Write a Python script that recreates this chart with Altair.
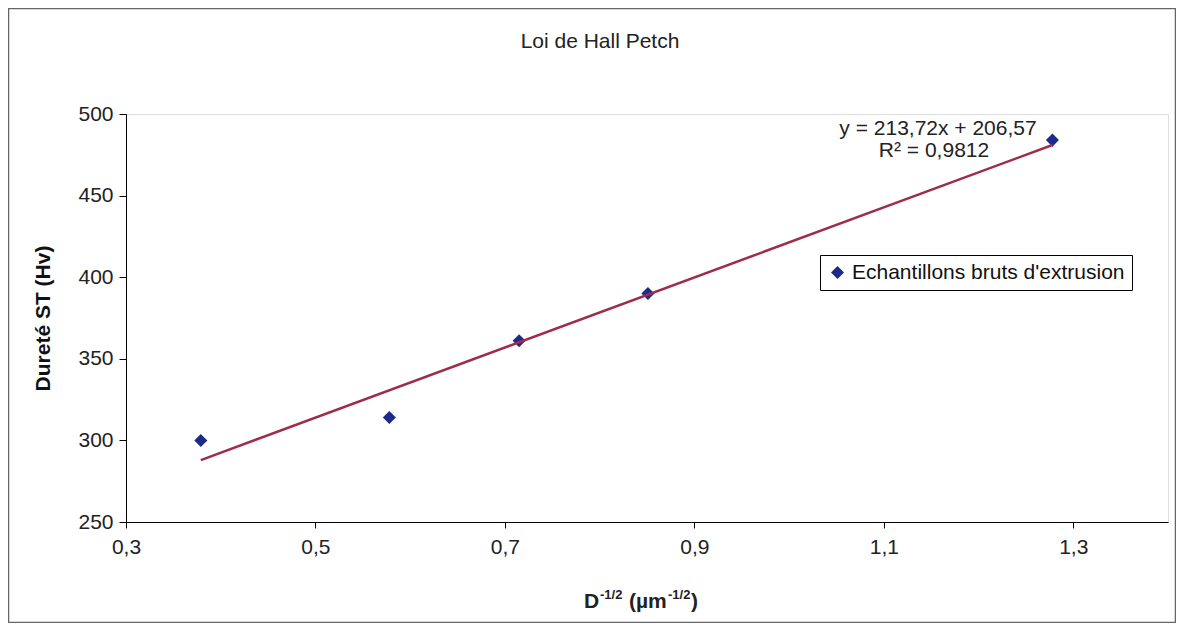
import altair as alt
import pandas as pd

# ---- data ----
x_vals = [0.379, 0.578, 0.715, 0.851, 1.278]
y_vals = [300, 314, 361, 390, 484]
series_name = "Echantillons bruts d'extrusion"
x_ticks = [0.3, 0.5, 0.7, 0.9, 1.1, 1.3]
y_ticks = [250, 300, 350, 400, 450, 500]
x_domain = [0.3, 1.4]
y_domain = [250, 500]
chart_title = "Loi de Hall Petch"
y_title = "Dureté ST (Hv)"
x_title_parts = ["D", "-1/2", "(µm", "-1/2", ")"]
eq_text = "y = 213,72x + 206,57"
r2_text = "R² = 0,9812"

df = pd.DataFrame({"x": x_vals, "y": y_vals, "serie": [series_name] * len(x_vals)})
one = pd.DataFrame({"k": [0]})

W, H = 1042, 408
FONT = "Liberation Sans"
FS = 21

xs = alt.Scale(domain=x_domain, nice=False, zero=False)
ys = alt.Scale(domain=y_domain, nice=False, zero=False)

x_axis = alt.Axis(values=x_ticks, title=None, grid=False,
                  labelExpr="replace(format(datum.value, '.1f'), '.', ',')",
                  labelFlush=False, labelOverlap=False,
                  domainColor="black", tickColor="black", tickSize=6,
                  labelFont=FONT, labelFontSize=FS, labelColor="#222", labelPadding=8)
y_axis = alt.Axis(values=y_ticks, title=y_title, grid=False,
                  labelFlush=False, labelOverlap=False,
                  domainColor="black", tickColor="black", tickSize=7,
                  labelFont=FONT, labelFontSize=FS, labelColor="#222", labelPadding=6,
                  titleFont=FONT, titleFontSize=FS, titleFontWeight="bold",
                  titleColor="#111", titlePadding=24)

points = alt.Chart(df).mark_point(filled=True, opacity=1, size=170).encode(
    x=alt.X("x:Q", scale=xs, axis=x_axis),
    y=alt.Y("y:Q", scale=ys, axis=y_axis),
    color=alt.Color("serie:N", scale=alt.Scale(range=["#1c2a8a"]),
                    legend=alt.Legend(title=None, orient="none", legendX=694, legendY=141,
                                      fillColor="white", strokeColor="black", padding=7,
                                      labelFont=FONT, labelFontSize=FS, labelColor="#111",
                                      labelLimit=0, symbolSize=170, symbolStrokeWidth=0)),
    shape=alt.Shape("serie:N", scale=alt.Scale(range=["diamond"]), legend=None),
)

trend = alt.Chart(df).transform_regression("x", "y").mark_line(
    color="#9e2d4c", strokeWidth=2.5).encode(x=alt.X("x:Q", scale=xs), y=alt.Y("y:Q", scale=ys))

def label(txt, x, y, size=FS, weight="normal", align="center", baseline="middle"):
    return alt.Chart(one).mark_text(font=FONT, fontSize=size, fontWeight=weight, color="#222",
                                    align=align, baseline=baseline).encode(
        x=alt.value(x), y=alt.value(y), text=alt.value(txt))

title_layer = label(chart_title, 474, -72)
eq = label(eq_text, 812, 15)
r2 = label(r2_text, 808, 37)

# x axis title with superscripts
base_x, base_y = 458, 494
sub_fs = 13
offsets = [0, 16, 45, 84, 107]
rises = [0, 9, 0, 9, 0]
sizes = [FS, sub_fs, FS, sub_fs, FS]
xt_layers = [label(p, base_x + o, base_y - r, size=s, weight="bold", align="left",
                   baseline="alphabetic")
             for p, o, r, s in zip(x_title_parts, offsets, rises, sizes)]

frame = alt.Chart(one).mark_rect(fill="transparent", stroke="#666", strokeWidth=1.5).encode(
    x=alt.value(-117.5), x2=alt.value(W + 7.5), y=alt.value(-105.5), y2=alt.value(H + 100.5))

chart = alt.layer(frame, points, trend, eq, r2, title_layer, *xt_layers).properties(
    width=W, height=H,
    autosize=alt.AutoSizeParams(type="none"),
    padding={"left": 118, "top": 106, "right": 8, "bottom": 101},
).configure_view(fill="#e4e4e8", stroke="#888", strokeWidth=1).configure(background="white")

chart.save("out.html", embed_options={"renderer": "svg", "actions": False})
